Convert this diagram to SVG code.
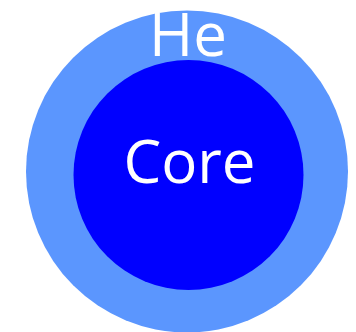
<svg xmlns="http://www.w3.org/2000/svg" width="356" height="332" viewBox="0 0 356 332">
<style>
.lbl{font-family:"Open Sans","Noto Sans",sans-serif;fill:#ffffff;text-anchor:middle}
</style>
<rect width="356" height="332" fill="#ffffff"/>
<g id="he-shell">
<circle cx="187" cy="171.5" r="161" fill="#5b96fe"/>
<text class="lbl" x="188" y="56" font-size="60">He</text>
</g>
<g id="core">
<circle cx="188.5" cy="175" r="115" fill="#0000ff"/>
<text class="lbl" x="189.5" y="183" font-size="60">Core</text>
</g>
<g id="connectors"/>
</svg>
